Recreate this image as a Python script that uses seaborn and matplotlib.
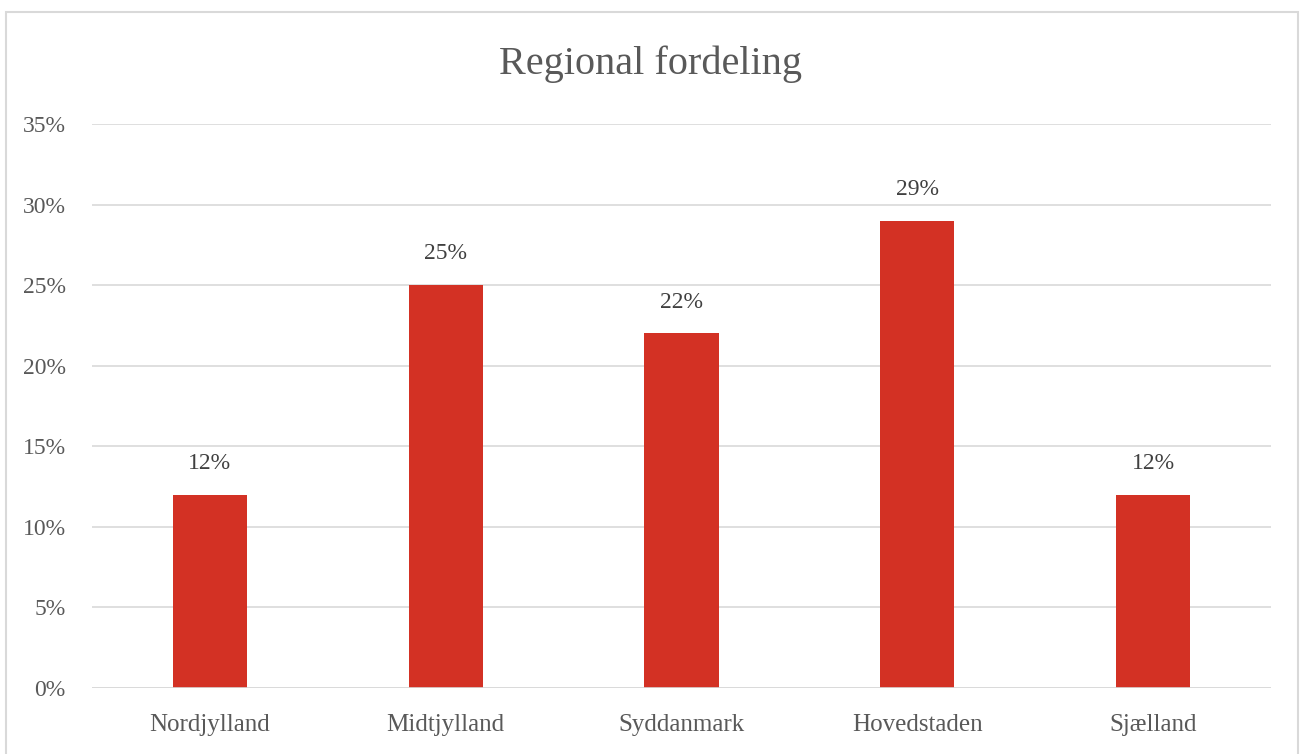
import matplotlib.pyplot as plt
import matplotlib.patches as mpatches
import seaborn as sns
import pandas as pd

regions = ['Nordjylland', 'Midtjylland', 'Syddanmark', 'Hovedstaden', 'Sjælland']
shares = [12, 25, 22, 29, 12]
yticks = [0, 5, 10, 15, 20, 25, 30, 35]

sns.set_theme(style='white')
plt.rcParams['font.family'] = ['Liberation Serif', 'DejaVu Serif']

df = pd.DataFrame({'region': regions, 'share': shares})

fig = plt.figure(figsize=(13.01, 7.54), dpi=100)
ax = fig.add_axes([92 / 1301, 1 - 688 / 754, (1271 - 92) / 1301, (688 - 124) / 754])

sns.barplot(data=df, x='region', y='share', color='#D33124', saturation=1,
            width=0.314, linewidth=0, ax=ax, zorder=3)

ax.set_ylim(0, 35)
ax.set_yticks(yticks)
ax.set_yticklabels([f'{t}%' for t in yticks])
ax.set_xlim(-0.5, len(regions) - 0.5)
ax.grid(axis='y', color='#D9D9D9', linewidth=1.2, zorder=0)
for s in ax.spines.values():
    s.set_visible(False)
ax.axhline(0, color='#D9D9D9', linewidth=1.2, zorder=4)
ax.tick_params(axis='y', colors='#595959', labelsize=17, length=0, pad=19)
ax.tick_params(axis='x', colors='#595959', labelsize=18, length=0, pad=19)
ax.set_xlabel('')
ax.set_ylabel('')

for i, v in enumerate(shares):
    ax.annotate(f'{v}%', (i, v), xytext=(0, 15), textcoords='offset points',
                ha='center', va='bottom', fontsize=17, color='#404040')

fig.text(0.5, 1 - 64 / 754, 'Regional fordeling', ha='center', va='center',
         fontsize=29, color='#595959')

fig.patches.append(mpatches.Rectangle((6 / 1301, -0.01), 1292 / 1301, 1 - 12 / 754 + 0.01,
                                      transform=fig.transFigure, fill=False,
                                      edgecolor='#D9D9D9', linewidth=1.5))

fig.savefig('out.png', dpi=100)
